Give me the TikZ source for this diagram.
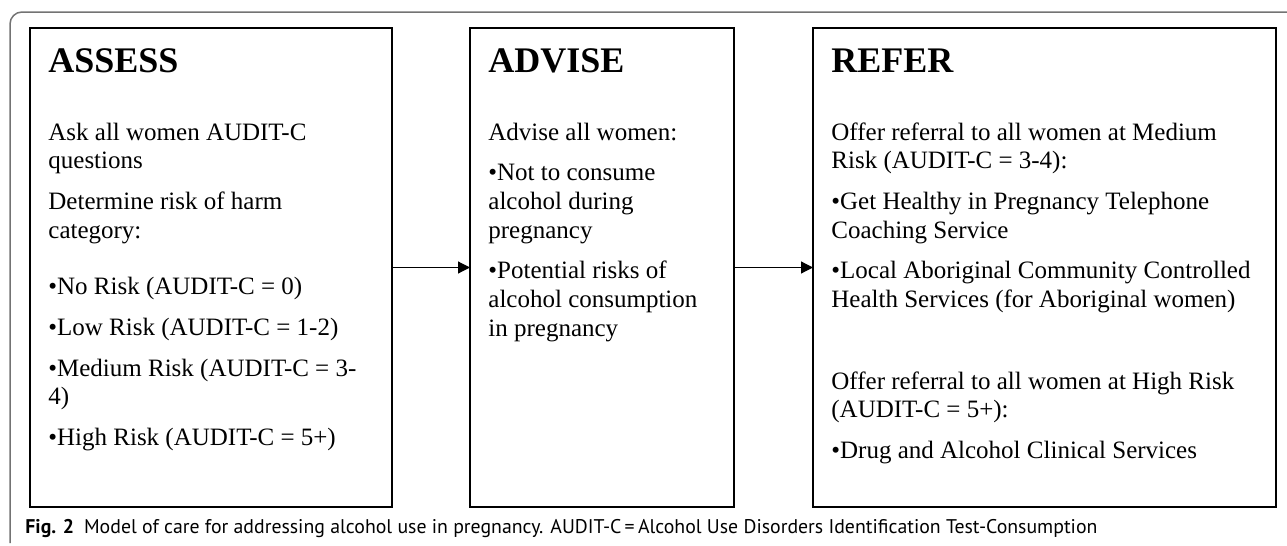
\documentclass[tikz,border=0pt]{standalone}
\usepackage{fontspec}
\setmainfont{Liberation Serif}
\newfontfamily\capsans{PT Sans}
\usetikzlibrary{arrows.meta, positioning}

\begin{document}
\begin{tikzpicture}[x=0.5pt, y=-0.5pt, >={Triangle[length=6pt, width=6pt]},
    bx/.style={draw, line width=0.85pt, minimum height=239.5pt, inner sep=0pt, outer sep=0pt},
    hd/.style={anchor=base west, inner sep=0pt, font=\fontsize{18pt}{21pt}\selectfont\bfseries},
    tx/.style={anchor=base west, inner sep=0pt, align=flush left, font=\fontsize{12.5pt}{14.35pt}\selectfont}]
    \useasboundingbox (0, 0) rectangle (1287, 546);
    \draw[black!55, line width=0.75pt, rounded corners=6pt] (10, 543) -- (10, 12) -- (1287, 12);
    \node[bx, minimum width=181pt] (assess) at (211, 267.5) {};
    \node[bx, minimum width=132pt] (advise) at (602, 267.5) {};
    \node[bx, minimum width=231.5pt] (refer) at (1044.5, 267.5) {};
    \draw[->, line width=0.6pt] (assess) -- (advise);
    \draw[->, line width=0.6pt] (advise) -- (refer);
    \node[hd] (assesshd) at (48, 72) {ASSESS};
    \node[hd] (advisehd) at (488, 72) {ADVISE};
    \node[hd] (referhd) at (831, 72) {REFER};
    \node[tx, text width=170pt] (assesstx) at (48, 140) {Ask all women AUDIT-C\\questions\\[6pt]
        Determine risk of harm\\category:\\[14pt]
        •No Risk (AUDIT-C = 0)\\[6pt]
        •Low Risk (AUDIT-C = 1-2)\\[6pt]
        •Medium Risk (AUDIT-C = 3-\\4)\\[6pt]
        •High Risk (AUDIT-C = 5+)};
    \node[tx, text width=120pt] (advisetx) at (488, 140) {Advise all women:\\[6pt]
        •Not to consume\\alcohol during\\pregnancy\\[6pt]
        •Potential risks of\\alcohol consumption\\in pregnancy};
    \node[tx, text width=220pt] (refertx) at (831, 140) {Offer referral to all women at Medium\\Risk (AUDIT-C = 3-4):\\[6pt]
        •Get Healthy in Pregnancy Telephone\\Coaching Service\\[6pt]
        •Local Aboriginal Community Controlled\\Health Services (for Aboriginal women)\\[26.5pt]
        Offer referral to all women at High Risk\\(AUDIT-C = 5+):\\[6pt]
        •Drug and Alcohol Clinical Services};
    \node[anchor=base west, inner sep=0pt, font=\capsans\fontsize{9.9pt}{11pt}\selectfont] (caption) at (25, 533)
        {\textbf{Fig. 2}\enspace Model of care for addressing alcohol use in pregnancy. AUDIT-C\,=\,Alcohol Use Disorders Identification Test-Consumption};
\end{tikzpicture}
\end{document}
